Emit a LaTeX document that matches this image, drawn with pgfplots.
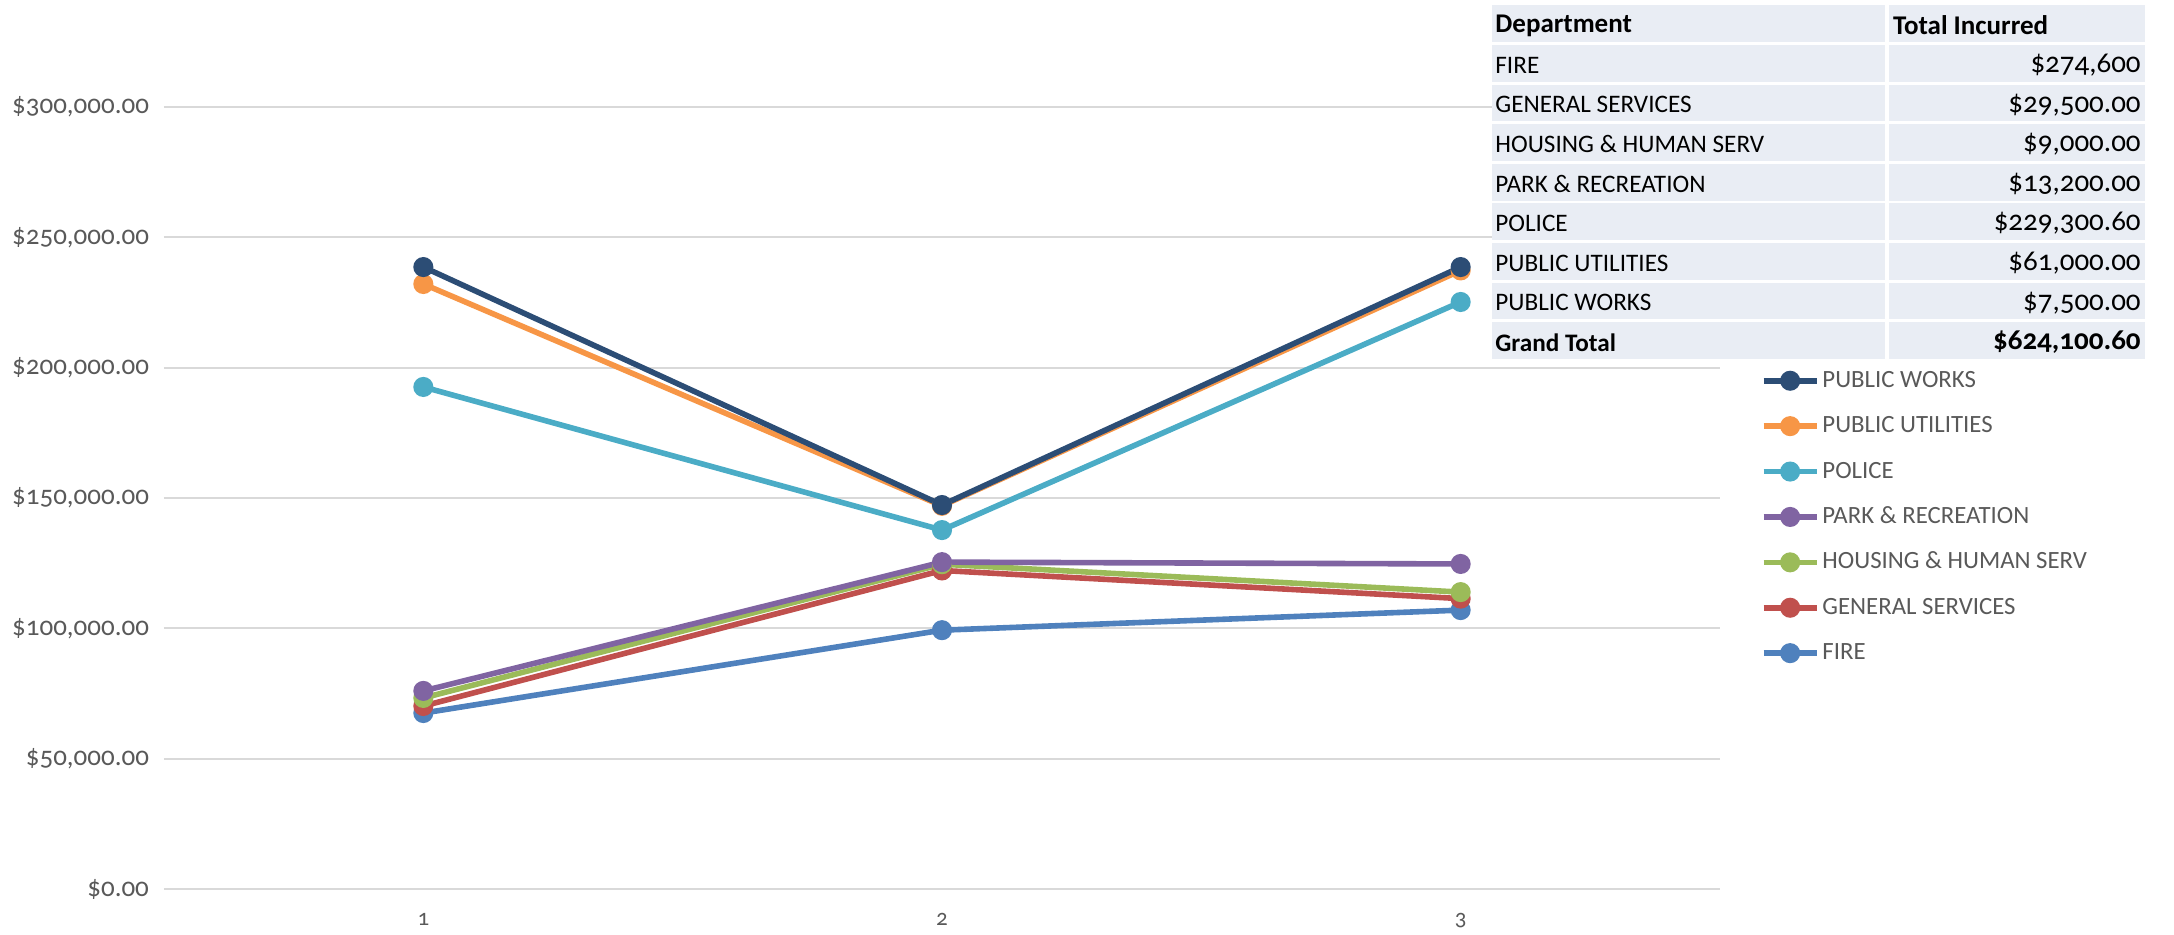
\documentclass[border=0pt]{standalone}
\usepackage{pgfplots}
\pgfplotsset{compat=1.18}
\usepackage{fontspec}
\setmainfont{Carlito}[Numbers=OldStyle]
\definecolor{cFire}{HTML}{4F81BD}
\definecolor{cGen}{HTML}{C0504D}
\definecolor{cHou}{HTML}{9BBB59}
\definecolor{cPark}{HTML}{8064A2}
\definecolor{cPol}{HTML}{4BACC6}
\definecolor{cPU}{HTML}{F79646}
\definecolor{cPW}{HTML}{2C4D75}
\definecolor{gridgray}{HTML}{D9D9D9}
\definecolor{txtgray}{HTML}{595959}
\definecolor{cellbg}{HTML}{E9EDF4}
\begin{document}
\begin{tikzpicture}
\useasboundingbox (-82pt,-22.5pt) rectangle (1005pt,444.5pt);
\begin{axis}[
  at={(0pt,0pt)}, anchor=south west,
  scale only axis, width=778pt, height=391pt,
  xmin=0.5, xmax=3.5, ymin=0, ymax=300000,
  xtick={1,2,3}, ytick={0,50000,100000,150000,200000,250000,300000},
  axis line style={draw=none},
  major tick length=0pt,
  ymajorgrids, grid style={color=gridgray, line width=1pt},
  clip=false,
  tick label style={font=\fontsize{13.5}{15}\selectfont, text=txtgray},
  yticklabel style={anchor=east, xshift=-4pt},
  xticklabel style={font=\fontsize{11.5}{13}\selectfont, yshift=-8.5pt},
  yticklabel={\$\pgfmathprintnumber[assume math mode=true,fixed,fixed zerofill,precision=2,1000 sep={,}]{\tick}},
  xticklabel={\pgfmathprintnumber[assume math mode=true]{\tick}},
  scaled y ticks=false,
  every axis plot/.append style={line width=2.8pt, mark=*, mark size=3.6pt},
  reverse legend,
  legend image code/.code={\draw[mark repeat=2,mark phase=2,#1] plot coordinates {(0pt,0pt) (13.25pt,0pt) (26.5pt,0pt)};},
  legend style={at={(rel axis cs:1.026,0.669)}, anchor=north west, draw=none, fill=none,
    font=\fontsize{12.4}{14}\selectfont, text=txtgray, row sep=8.2pt, inner sep=0pt,
    nodes={inner sep=1.5pt, anchor=west, text height=9pt, text depth=2.5pt}},
  legend cell align=left,
]
\addplot[cFire] coordinates {(1,67500) (2,99300) (3,107000)};
\addlegendentry{FIRE}
\addplot[cGen] coordinates {(1,70200) (2,122200) (3,111400)};
\addlegendentry{GENERAL SERVICES}
\addplot[cHou] coordinates {(1,73300) (2,124600) (3,113900)};
\addlegendentry{HOUSING \& HUMAN SERV}
\addplot[cPark] coordinates {(1,76000) (2,125400) (3,124700)};
\addlegendentry{PARK \& RECREATION}
\addplot[cPol] coordinates {(1,192600) (2,137700) (3,225200)};
\addlegendentry{POLICE}
\addplot[cPU] coordinates {(1,232100) (2,147000) (3,237300)};
\addlegendentry{PUBLIC UTILITIES}
\addplot[cPW] coordinates {(1,238600) (2,147300) (3,238600)};
\addlegendentry{PUBLIC WORKS}
\end{axis}
% table
\foreach \i/\a/\b in {
  1/{FIRE}/{\$274,600},
  2/{GENERAL SERVICES}/{\$29,500.00},
  3/{HOUSING \& HUMAN SERV}/{\$9,000.00},
  4/{PARK \& RECREATION}/{\$13,200.00},
  5/{POLICE}/{\$229,300.60},
  6/{PUBLIC UTILITIES}/{\$61,000.00},
  7/{PUBLIC WORKS}/{\$7,500.00},
  8/{\bfseries Grand Total}/{\bfseries \$624,100.60}}{
  \pgfmathsetmacro\yt{442.5-\i*19.8}
  \pgfmathsetmacro\yb{\yt-19.8}
  \pgfmathsetmacro\ym{\yt-10.8}
  \fill[cellbg] (664pt,\yt pt-0.7pt) rectangle (860.6pt,\yb pt+0.7pt);
  \fill[cellbg] (862.4pt,\yt pt-0.7pt) rectangle (990.5pt,\yb pt+0.7pt);
  \node[anchor=west, inner sep=0pt, font=\fontsize{12.6}{14}\selectfont] at (665.5pt,\ym pt) {\a};
  \node[anchor=east, inner sep=0pt, font=\fontsize{14.5}{16}\selectfont] at (988.5pt,\ym pt) {\b};
}
\fill[cellbg] (664pt,442.5pt-0.7pt) rectangle (860.6pt,442.5pt-19.8pt+0.7pt);
\fill[cellbg] (862.4pt,442.5pt-0.7pt) rectangle (990.5pt,442.5pt-19.8pt+0.7pt);
\node[anchor=west, inner sep=0pt, font=\fontsize{13.5}{15}\selectfont\bfseries] at (665.5pt,431.7pt) {Department};
\node[anchor=west, inner sep=0pt, font=\fontsize{13.5}{15}\selectfont\bfseries] at (864.3pt,431.7pt) {Total Incurred};
\end{tikzpicture}
\end{document}
